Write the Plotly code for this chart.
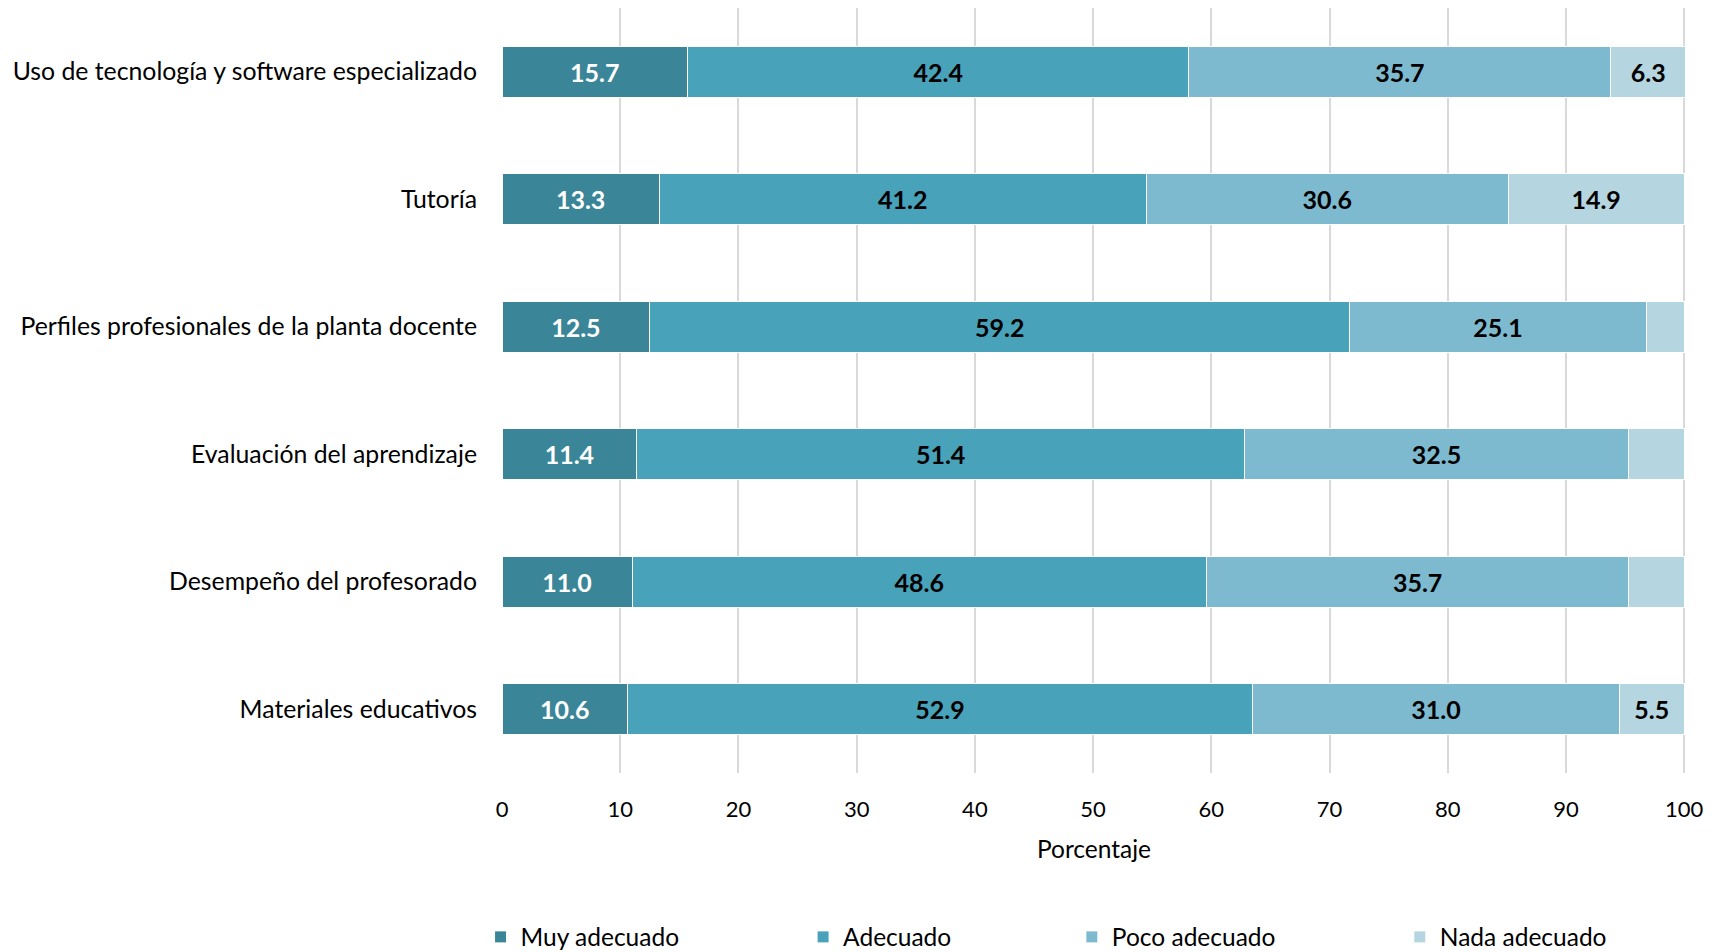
import plotly.graph_objects as go

categories = ["Materiales educativos", "Desempeño del profesorado", "Evaluación del aprendizaje",
              "Perfiles profesionales de la planta docente", "Tutoría",
              "Uso de tecnología y software especializado"]
series_names = ["Muy adecuado", "Adecuado", "Poco adecuado", "Nada adecuado"]
muy = [10.6, 11.0, 11.4, 12.5, 13.3, 15.7]
adecuado = [52.9, 48.6, 51.4, 59.2, 41.2, 42.4]
poco = [31.0, 35.7, 32.5, 25.1, 30.6, 35.7]
nada = [5.5, 4.7, 4.7, 3.2, 14.9, 6.3]
nada_labels = ["5.5", "", "", "", "14.9", "6.3"]
colors = ["#3A8598", "#48A2BA", "#7EBACF", "#B5D5E0"]
text_colors = ["white", "black", "black", "black"]
x_ticks = list(range(0, 101, 10))

FONT = "Lato"
legend_ids = ["legend", "legend2", "legend3", "legend4"]
legend_x = [-0.0181, 0.2543, 0.4813, 0.7583]

fig = go.Figure()
all_vals = [muy, adecuado, poco, nada]
for i, (name, vals) in enumerate(zip(series_names, all_vals)):
    txt = nada_labels if i == 3 else [f"{v:.1f}" for v in vals]
    fig.add_trace(go.Bar(
        y=categories, x=vals, name=name, orientation="h",
        marker=dict(color=colors[i], line=dict(color="white", width=1)),
        text=txt, textposition="inside", insidetextanchor="middle",
        textfont=dict(family=FONT, size=25, color=text_colors[i], weight="bold"),
        textangle=0, width=0.4, cliponaxis=False, legend=legend_ids[i],
    ))

layout_legends = {}
for lid, lx in zip(legend_ids, legend_x):
    layout_legends[lid] = dict(orientation="h", x=lx, xanchor="left",
                               yref="container", y=0.0158, yanchor="middle",
                               font=dict(family=FONT, size=24.5),
                               bgcolor="rgba(0,0,0,0)")

fig.update_layout(
    barmode="stack",
    width=1721, height=952,
    paper_bgcolor="white", plot_bgcolor="white",
    margin=dict(l=502, r=35, t=8, b=179),
    font=dict(family=FONT, size=24, color="black"),
    uniformtext=dict(minsize=8, mode="show"),
    xaxis=dict(range=[0, 100.15], tickvals=x_ticks, showgrid=True, gridcolor="#D9D9D9",
               gridwidth=1.5, zeroline=False, showline=False, ticks="",
               tickfont=dict(family=FONT, size=22), ticklabelstandoff=21,
               title=dict(text="Porcentaje", font=dict(family=FONT, size=24.5), standoff=19)),
    yaxis=dict(showgrid=False, zeroline=False, showline=False, ticks="",
               tickfont=dict(family=FONT, size=24.8), ticklabelstandoff=24),
    showlegend=True,
    **layout_legends,
)
fig.write_html("out.html", config={"displayModeBar": False},
               post_script="document.body.style.margin='0';")
